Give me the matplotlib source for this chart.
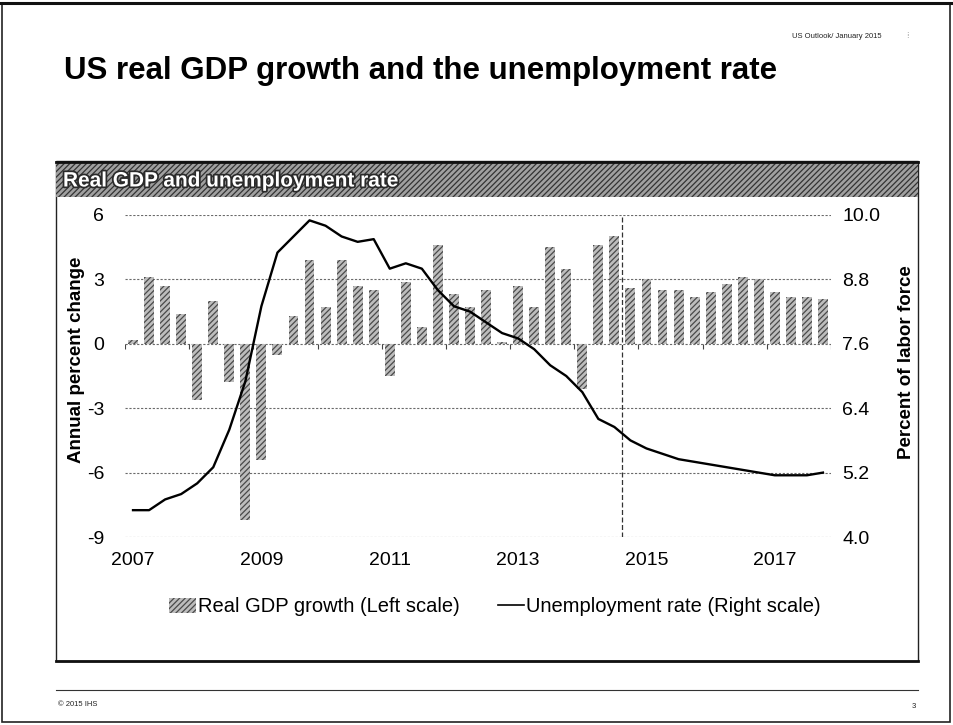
import numpy as np
import matplotlib
matplotlib.use("Agg")
import matplotlib.pyplot as plt
import matplotlib.patheffects as pe
from matplotlib.patches import Rectangle, Patch
from matplotlib.lines import Line2D

plt.rcParams['font.family'] = ['Liberation Sans', 'DejaVu Sans']
plt.rcParams['hatch.linewidth'] = 0.9

# ---------------- data ----------------
years = ["2007", "2009", "2011", "2013", "2015", "2017"]
quarters = [f"{y}Q{q}" for y in range(2007, 2018) for q in range(1, 5)]
gdp_growth = [0.2, 3.1, 2.7, 1.4,
              -2.6, 2.0, -1.8, -8.2,
              -5.4, -0.5, 1.3, 3.9,
              1.7, 3.9, 2.7, 2.5,
              -1.5, 2.9, 0.8, 4.6,
              2.3, 1.7, 2.5, 0.1,
              2.7, 1.7, 4.5, 3.5,
              -2.1, 4.6, 5.0, 2.6,
              3.0, 2.5, 2.5, 2.2,
              2.4, 2.8, 3.1, 3.0,
              2.4, 2.2, 2.2, 2.1]
unemployment = [4.5, 4.5, 4.7, 4.8,
                5.0, 5.3, 6.0, 6.9,
                8.3, 9.3, 9.6, 9.9,
                9.8, 9.6, 9.5, 9.55,
                9.0, 9.1, 9.0, 8.6,
                8.3, 8.2, 8.0, 7.8,
                7.7, 7.5, 7.2, 7.0,
                6.7, 6.2, 6.05, 5.8,
                5.65, 5.55, 5.45, 5.4,
                5.35, 5.3, 5.25, 5.2,
                5.15, 5.15, 5.15, 5.2]
left_ticks = [-9, -6, -3, 0, 3, 6]
right_ticks = [4.0, 5.2, 6.4, 7.6, 8.8, 10.0]
forecast_start = "2014Q4"

W, H = 954, 725
fig = plt.figure(figsize=(W / 100, H / 100), dpi=100)
fig.patch.set_facecolor('white')


def fx(x):
    return x / W


def fy(y):
    return 1 - y / H


# ---------------- page decorations ----------------
fig.add_artist(Rectangle((fx(2), fy(722)), fx(950) - fx(2), fy(3) - fy(722),
                         transform=fig.transFigure, fill=False,
                         edgecolor='#222', lw=1.2))
fig.add_artist(Line2D([fx(0), fx(954)], [fy(3), fy(3)], transform=fig.transFigure,
                      color='#111', lw=2.2))

fig.text(fx(882), fy(36), "US Outlook/ January 2015", ha='right', va='center',
         fontsize=5.5, color='#222')
fig.text(fx(907), fy(36), "⁞", ha='center', va='center', fontsize=6, color='#888',
         family=['DejaVu Sans'])

fig.text(fx(64), fy(71), "US real GDP growth and the unemployment rate",
         ha='left', va='center', fontsize=22.5, fontweight='bold', color='black')

# chart box
fig.add_artist(Rectangle((fx(56), fy(661)), fx(918) - fx(56), fy(161) - fy(661),
                         transform=fig.transFigure, fill=False,
                         edgecolor='#222', lw=1.0))
fig.add_artist(Line2D([fx(56), fx(918)], [fy(661), fy(661)], transform=fig.transFigure,
                      color='#111', lw=2.0))

# header hatched bar
fig.add_artist(Rectangle((fx(56), fy(197)), fx(918) - fx(56), fy(162) - fy(197),
                         transform=fig.transFigure, facecolor='#a0a0a0',
                         edgecolor='#333333', hatch='//////', lw=0))
fig.add_artist(Line2D([fx(56), fx(918)], [fy(162), fy(162)], transform=fig.transFigure,
                      color='#111', lw=2.0))
fig.text(fx(63), fy(181), "Real GDP and unemployment rate", ha='left', va='center',
         fontsize=15, fontweight='bold', color='white',
         path_effects=[pe.withStroke(linewidth=2.5, foreground='#2a2a2a')])

# footer
fig.add_artist(Line2D([fx(56), fx(918)], [fy(690), fy(690)], transform=fig.transFigure,
                      color='#333', lw=0.8))
fig.text(fx(58), fy(705), "© 2015 IHS", ha='left', va='center', fontsize=5.5, color='#222')
fig.text(fx(916), fy(706), "3", ha='right', va='center', fontsize=5.5, color='#222')

# ---------------- axes ----------------
ax = fig.add_axes([fx(125), fy(537), fx(831) - fx(125), fy(215) - fy(537)])
ax2 = ax.twinx()

x = np.arange(len(quarters))
ax.bar(x, gdp_growth, width=0.62, facecolor='#bdbdbd', edgecolor='#4a4a4a',
       hatch='//////', lw=0, zorder=2)

ax.set_xlim(-0.5, len(quarters) - 0.5)
ax.set_ylim(left_ticks[0], left_ticks[-1])
ax.set_yticks(left_ticks)
ax.set_yticklabels([str(t) for t in left_ticks])
ax2.set_ylim(right_ticks[0], right_ticks[-1])
ax2.set_yticks(right_ticks)
ax2.set_yticklabels([f"{t:.1f}" for t in right_ticks])

for t in left_ticks:
    ax.axhline(t, color='#6a6a6a', lw=0.8, ls=(0, (2, 1.5)), zorder=1)

# category axis at zero with year-boundary tick marks
ax.vlines(np.arange(-0.5, len(quarters), 4), 0, -0.25, color='#444', lw=0.8, zorder=3)

# forecast divider
fi = quarters.index(forecast_start) - 0.5
ax.axvline(fi, color='#333', lw=0.9, ls=(0, (4, 2)), zorder=3)

ax2.plot(x, unemployment, color='black', lw=1.7, zorder=4)

year_pos = [quarters.index(y + "Q1") for y in years]
ax.set_xticks(year_pos)
ax.set_xticklabels(years)

for a in (ax, ax2):
    for s in a.spines.values():
        s.set_visible(False)
    a.set_facecolor('none')
ax.tick_params(axis='x', length=0, pad=11, labelsize=14)
ax.tick_params(axis='y', length=0, pad=15, labelsize=14)
ax2.tick_params(axis='y', length=0, pad=8, labelsize=14)

ax.set_ylabel("Annual percent change", fontsize=13.5, fontweight='bold')
ax2.set_ylabel("Percent of labor force", fontsize=13.5, fontweight='bold')
ax.yaxis.set_label_coords((85 - 125) / 706, (537 - 360) / 322)
ax2.yaxis.set_label_coords((898 - 125) / 706, (537 - 362) / 322)

handles = [Patch(facecolor='#bdbdbd', edgecolor='#4a4a4a', hatch='//////', lw=0),
           Line2D([0], [0], color='black', lw=1.2)]
labels = ["Real GDP growth (Left scale)", "Unemployment rate (Right scale)"]
fig.legend(handles, labels, loc='center', bbox_to_anchor=(fx(495), fy(607)), ncol=2,
           frameon=False, fontsize=14.5, handlelength=1.3, handletextpad=0.1,
           columnspacing=1.9)

fig.savefig("out.png", dpi=100, facecolor='white')
